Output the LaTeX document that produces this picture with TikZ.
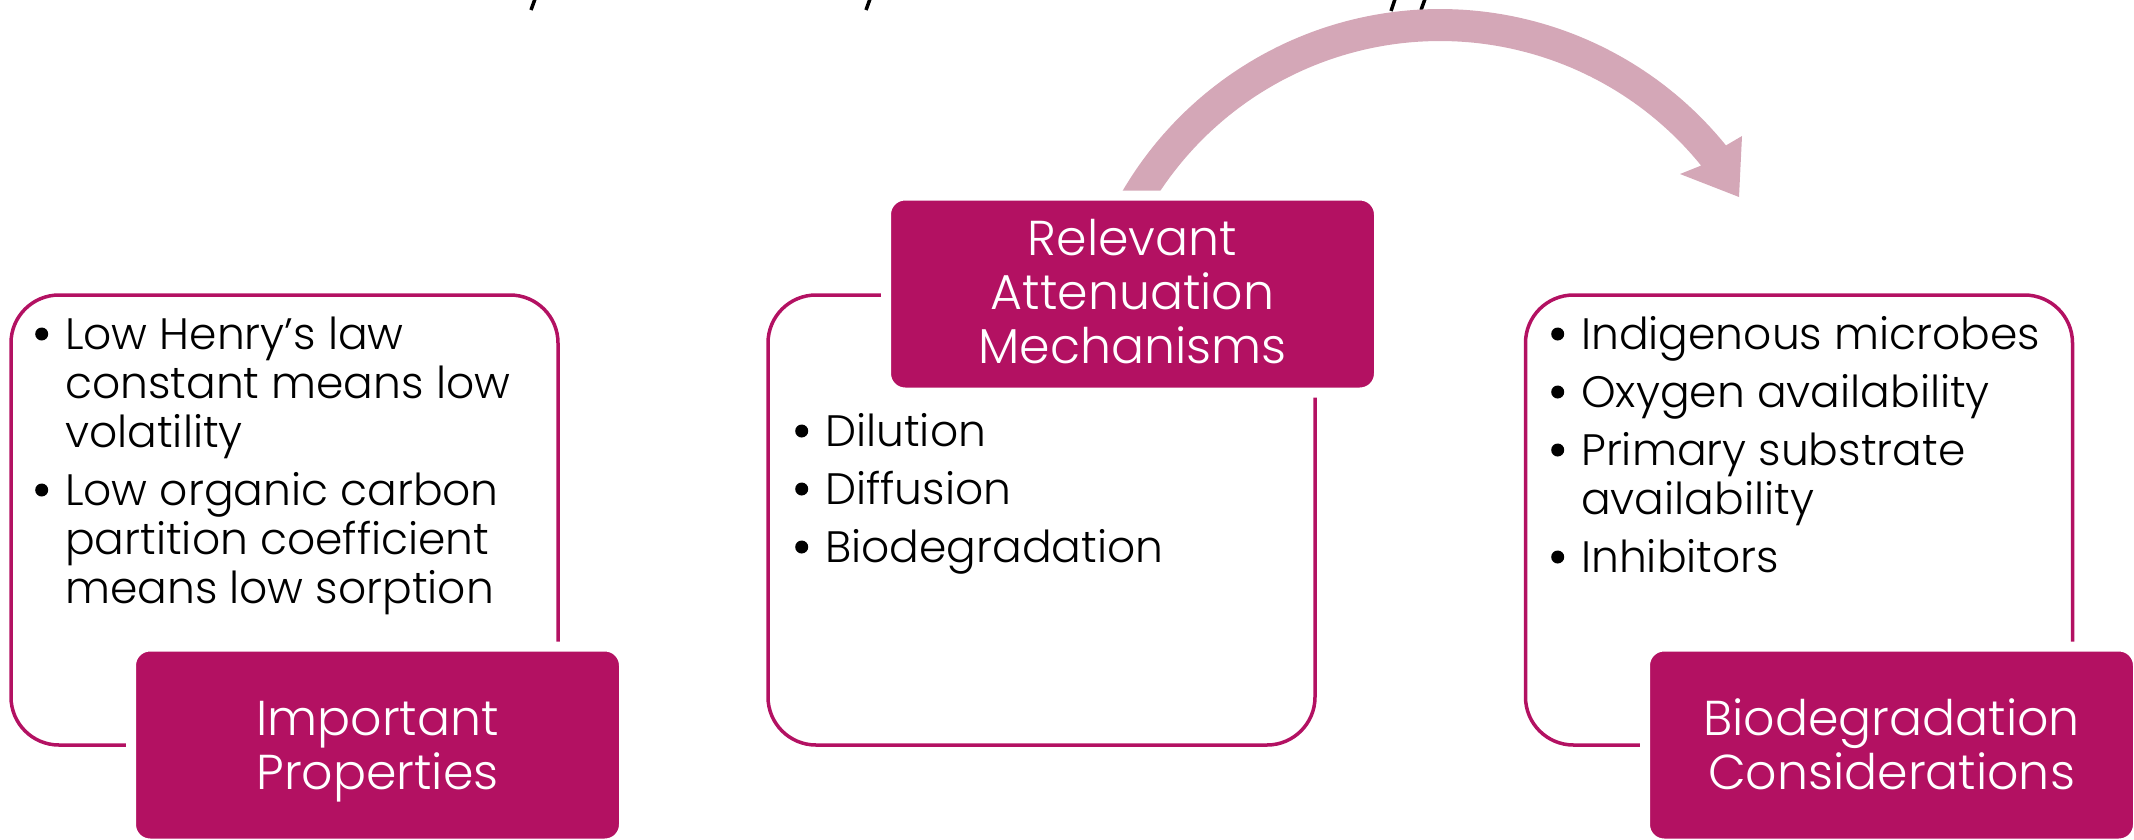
\documentclass[tikz,border=0pt]{standalone}
\usepackage{fontspec}
\IfFontExistsTF{Poppins Light}{\setmainfont{Poppins Light}}{\setmainfont{Poppins}}
\definecolor{mag}{HTML}{B31162}
\definecolor{arrowc}{HTML}{D4A7B7}
\newcommand{\bdot}{\tikz[baseline=0pt]\fill[black] (0pt,15pt) circle[radius=6.5pt];}
\newcommand{\bitem}[1]{\noindent\llap{\makebox[0pt][c]{\bdot}\hspace{23.5pt}}#1\par}
\newcommand{\igap}{\vspace{9pt}}
\tikzset{
  outl/.style={draw=mag, line width=3.5pt, rounded corners=48pt, minimum width=547pt, minimum height=450pt, inner sep=0pt},
  lab/.style={fill=mag, draw=white, line width=10pt, rounded corners=19pt, minimum width=493pt, minimum height=197pt, inner sep=0pt},
  btext/.style={inner sep=0pt, anchor=base west, font=\fontsize{44}{49}\selectfont, text=black},
  ltext/.style={inner sep=0pt, anchor=base, font=\fontsize{49}{54}\selectfont, text=white},
  frag/.style={line width=3.5pt, black}
}
\begin{document}
\begin{tikzpicture}[x=1pt,y=-1pt]
\useasboundingbox (0,0) rectangle (2134,839);
% cut-off title fragments
\draw[frag] (535,-1) -- (531,10);
\draw[frag] (870,-1) -- (866,10);
\draw[frag] (1395,-1) -- (1391,11);
\draw[frag] (1425,-1) -- (1421,10);
% curved arrow
\fill[arrowc] plot[domain=210:321,samples=90] ({1440+368*cos(\x)},{377+368*sin(\x)})
  -- (1742,136) -- (1739,197) -- (1680,174)
  -- plot[domain=321:212.8,samples=90] ({1440+336*cos(\x)},{377+336*sin(\x)}) -- cycle;
% outline boxes
\node[outl] (lo) at (284.5,520) {};
\node[outl] (mo) at (1041.5,520) {};
\node[outl] (ro) at (1799,520) {};
% label boxes
\node[lab] (lb) at (377.5,745) {};
\node[lab] (mb) at (1132.5,294) {};
\node[lab] (rb) at (1891.5,745) {};
% label texts
\node[ltext] (lbt) at (377.5,735) {\parbox[t]{470pt}{\centering Important\\Properties}};
\node[ltext] (mbt) at (1132.5,255) {\parbox[t]{470pt}{\centering Relevant\\Attenuation\\Mechanisms}};
\node[ltext] (rbt) at (1891.5,735) {\parbox[t]{470pt}{\centering Biodegradation\\Considerations}};
% bullet texts
\node[btext] (lt) at (65,349) {\parbox[t]{500pt}{\raggedright
  \bitem{Low Henry’s law\\constant means low\\volatility}\igap
  \bitem{Low organic carbon\\partition coefficient\\means low sorption}}};
\node[btext] (mt) at (825,446) {\parbox[t]{500pt}{\raggedright
  \bitem{Dilution}\igap
  \bitem{Diffusion}\igap
  \bitem{Biodegradation}}};
\node[btext] (rt) at (1581,349) {\parbox[t]{500pt}{\raggedright
  \bitem{Indigenous microbes}\igap
  \bitem{Oxygen availability}\igap
  \bitem{Primary substrate\\availability}\igap
  \bitem{Inhibitors}}};
\end{tikzpicture}
\end{document}
